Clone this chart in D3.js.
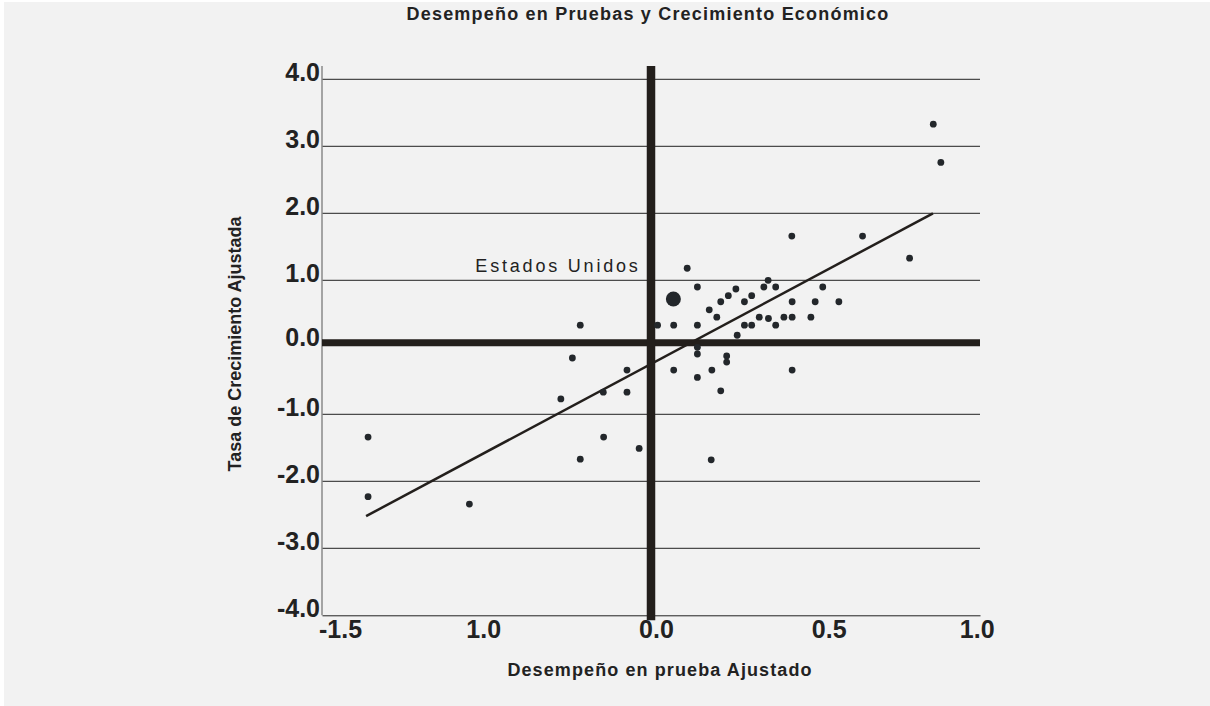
<!DOCTYPE html>
<html>
<head>
<meta charset="utf-8">
<script src="https://cdn.jsdelivr.net/npm/d3@7"></script>
<style>
    body { margin: 0; background: #ffffff; }
    svg { display: block; font-family: "Liberation Sans", Arial, sans-serif; }
</style>
</head>
<body>
<div id="chart"></div>
<script>
// values
var testScores = [
    0.858, 0.881, 0.428, 0.643, 0.786, 0.110,
    0.141, 0.356, 0.343, 0.379, 0.522, 0.258, 0.235, 0.306, 0.212, 0.284,
    0.429, 0.499, 0.571, 0.177, 0.200, 0.329, 0.357, 0.404, 0.429, 0.486,
    0.020, 0.069, 0.141, 0.284, 0.306, 0.379, 0.262, -0.215,
    0.141, 0.141, 0.230, 0.230, 0.185, 0.429, 0.141, 0.212, -0.239, -0.073,
    0.069, -0.145, -0.073, -0.274,
    -0.860, -0.860, -0.552, -0.215, -0.144, -0.036, 0.183
];
var growthRates = [
    3.33, 2.76, 1.66, 1.66, 1.33, 1.18,
    0.90, 1.00, 0.90, 0.90, 0.90, 0.87, 0.77, 0.77, 0.68, 0.68,
    0.68, 0.68, 0.68, 0.56, 0.45, 0.45, 0.43, 0.45, 0.45, 0.45,
    0.33, 0.33, 0.33, 0.33, 0.33, 0.33, 0.18, 0.33,
    0.00, -0.10, -0.13, -0.22, -0.34, -0.34, -0.45, -0.65, -0.16, -0.34,
    -0.34, -0.67, -0.67, -0.77,
    -1.34, -2.23, -2.34, -1.67, -1.34, -1.51, -1.68
];
var usPoint = { name: "Estados Unidos", x: 0.068, y: 0.72 };
var fitLine = [{ x: -0.866, y: -2.52 }, { x: 0.857, y: 2.0 }];

var yTickValues = [-4, -3, -2, -1, 0, 1, 2, 3, 4];
// the source labels its x axis oddly; keep its labels where they sit
var xTickValues = [-0.945, -0.51, 0.015, 0.54, 0.99];
var xTickLabels = ["-1.5", "1.0", "0.0", "0.5", "1.0"];

var chartTitle = "Desempeño en Pruebas y Crecimiento Económico";
var xTitle = "Desempeño en prueba Ajustado";
var yTitle = "Tasa de Crecimiento Ajustada";

var W = 1210, H = 706;
var plot = { left: 322, right: 980, top: 66, bottom: 615.3 };
var ink = "#231f1c", dotColor = "#23272b";

var x = d3.scaleLinear().domain([-1, 1]).range([plot.left, plot.right]);
var y = d3.scaleLinear().domain([-4, 4]).range([plot.bottom, 79.3]);

// the zero axis in the source sits a few pixels above the 0.0 step
var zeroNudge = -4.6;

var points = testScores.map(function (d, i) {
    return { x: d, y: growthRates[i] };
});

var svg = d3.select("#chart").append("svg")
    .attr("width", W)
    .attr("height", H);

svg.append("rect")
    .attr("x", 4).attr("y", 2)
    .attr("width", W - 4).attr("height", H - 2)
    .attr("fill", "#f2f2f2");

svg.append("text")
    .attr("x", 648).attr("y", 20)
    .attr("text-anchor", "middle")
    .style("font-size", "18px").style("font-weight", "bold")
    .style("letter-spacing", "1.2px")
    .attr("fill", "#222")
    .text(chartTitle);

// horizontal grid lines (zero is drawn thick below)
svg.append("g").selectAll("line")
    .data(yTickValues.filter(function (d) { return d !== 0 && d !== -4; }))
    .enter().append("line")
    .attr("x1", plot.left).attr("x2", plot.right)
    .attr("y1", function (d) { return y(d); })
    .attr("y2", function (d) { return y(d); })
    .attr("stroke", "#222")
    .attr("stroke-width", 1);

// left axis line
svg.append("line")
    .attr("x1", plot.left).attr("x2", plot.left)
    .attr("y1", plot.top).attr("y2", plot.bottom)
    .attr("stroke", "#8a8a8a")
    .attr("stroke-width", 1.5);

var xAxis = d3.axisBottom(x)
    .tickValues(xTickValues)
    .tickFormat(function (d, i) { return xTickLabels[i]; })
    .tickSize(0)
    .tickSizeOuter(0)
    .tickPadding(5);

var gx = svg.append("g")
    .attr("transform", "translate(0," + plot.bottom + ")")
    .call(xAxis);
gx.select(".domain").attr("stroke", "#222").attr("stroke-width", 1);
gx.selectAll("text")
    .attr("fill", "#222")
    .style("font-size", "25px").style("font-weight", "bold")
    .style("font-family", "\"Liberation Sans\", Arial, sans-serif");

var yAxis = d3.axisLeft(y)
    .tickValues(yTickValues)
    .tickFormat(function (d) { return d.toFixed(1); })
    .tickSize(0)
    .tickPadding(2);

var gy = svg.append("g")
    .attr("transform", "translate(" + plot.left + ",0)")
    .call(yAxis);
gy.select(".domain").remove();
gy.selectAll("text")
    .attr("dy", "0.04em")
    .attr("y", function (d) { return d === 0 ? zeroNudge + 1.5 : 0; })
    .attr("fill", "#222")
    .style("font-size", "25px").style("font-weight", "bold")
    .style("font-family", "\"Liberation Sans\", Arial, sans-serif");

// thick zero axes
svg.append("line")
    .attr("x1", plot.left).attr("x2", plot.right)
    .attr("y1", y(0) + zeroNudge).attr("y2", y(0) + zeroNudge)
    .attr("stroke", ink)
    .attr("stroke-width", 7);

svg.append("line")
    .attr("x1", x(0)).attr("x2", x(0))
    .attr("y1", plot.top).attr("y2", plot.bottom + 5)
    .attr("stroke", ink)
    .attr("stroke-width", 8.5);

var line = d3.line()
    .x(function (d) { return x(d.x); })
    .y(function (d) { return y(d.y); });

svg.append("path")
    .datum(fitLine)
    .attr("d", line)
    .attr("fill", "none")
    .attr("stroke", ink)
    .attr("stroke-width", 2.5);

svg.append("g").selectAll("circle")
    .data(points)
    .enter().append("circle")
    .attr("cx", function (d) { return x(d.x); })
    .attr("cy", function (d) { return y(d.y); })
    .attr("r", 3.4)
    .attr("fill", dotColor);

svg.append("circle")
    .attr("cx", x(usPoint.x))
    .attr("cy", y(usPoint.y))
    .attr("r", 7.5)
    .attr("fill", dotColor);

svg.append("text")
    .attr("x", x(usPoint.x) - 198)
    .attr("y", y(usPoint.y) - 27)
    .style("font-size", "18px")
    .style("letter-spacing", "2.8px")
    .attr("fill", "#222")
    .text(usPoint.name);

svg.append("text")
    .attr("x", 660).attr("y", 676)
    .attr("text-anchor", "middle")
    .style("font-size", "18px").style("font-weight", "bold")
    .style("letter-spacing", "1.1px")
    .attr("fill", "#222")
    .text(xTitle);

svg.append("text")
    .attr("transform", "translate(241,344) rotate(-90)")
    .attr("text-anchor", "middle")
    .style("font-size", "18px").style("font-weight", "bold")
    .attr("fill", "#222")
    .text(yTitle);
</script>
</body>
</html>
